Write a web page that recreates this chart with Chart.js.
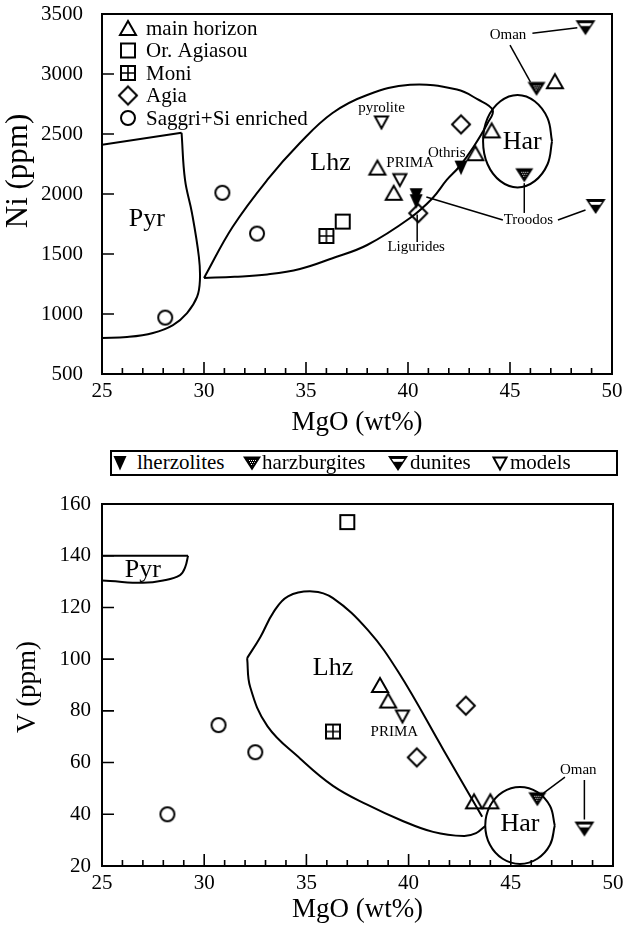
<!DOCTYPE html>
<html>
<head>
<meta charset="utf-8">
<script src="https://cdn.jsdelivr.net/npm/chart.js@4.4.1/dist/chart.umd.min.js"></script>
<style>
  body { margin: 0; background: #fff; }
  #page { position: relative; width: 629px; height: 930px; overflow: hidden; }
  #niChart { position: absolute; left: 0; top: 0; }
  #vChart { position: absolute; left: 0; top: 490px; }
  #typeKey {
    position: absolute; left: 110px; top: 450px; width: 504px; height: 22px;
    border: 2px solid #000; white-space: nowrap;
    font: 21px "Liberation Serif", serif; color: #000;
  }
  #typeKey canvas, #typeKey span { position: absolute; }
  #typeKey span { top: -2px; line-height: 24px; }
  #typeKey canvas { top: -2px; }
</style>
</head>
<body>
<div id="page">
  <canvas id="niChart" width="629" height="440"></canvas>
  <div id="typeKey"></div>
  <canvas id="vChart" width="629" height="440"></canvas>
</div>
<script>
// ---- upper panel: Ni (ppm) vs MgO (wt%) ----
const mainHorizonNi = [[38.5, 2220], [39.3, 2010], [43.3, 2340], [44.1, 2530], [47.2, 2940]];
const agiasouNi = [[36.8, 1770]];
const moniNi = [[36.0, 1650]];
const agiaNi = [[42.6, 2580], [40.5, 1840]];
const saggriNi = [[28.1, 970], [30.9, 2010], [32.6, 1670]];
const lherzoliteNi = [[42.6, 2220], [40.4, 1990], [40.4, 1940]];
const harzburgiteNi = [[46.3, 2880], [45.7, 2160]];
const duniteNi = [[48.7, 3390], [49.2, 1900]];
const modelNi = [[38.7, 2600], [39.6, 2120]];

// field outlines (MgO, Ni)
const pyrTopNi = [[25, 2410], [28.9, 2510]];
const pyrSideNi = [[28.9, 2510], [29.07, 2117], [29.41, 1842], [29.75, 1475], [29.8, 1283], [29.66, 1142],
  [29.17, 1008], [28.48, 908], [27.5, 842], [26.23, 808], [25, 800]];
const lhzNi = [[30.0, 1300], [31.4, 1725], [33.1, 2117], [34.7, 2425], [36.3, 2675], [38.0, 2825], [40.1, 2910],
  [42.4, 2870], [43.4, 2790], [44.15, 2700], [43.9, 2590], [43.2, 2390], [42.5, 2225], [41.9, 2117],
  [41.2, 1965], [40.1, 1800], [38.0, 1575], [36.3, 1465], [34.7, 1375], [33.1, 1330], [31.5, 1310], [30.0, 1300]];
const harNi = [[47.06, 2440], [46.84, 2632], [46.21, 2773], [45.37, 2825], [44.53, 2773], [43.9, 2632],
  [43.68, 2440], [43.9, 2248], [44.53, 2107], [45.37, 2055], [46.21, 2107], [46.84, 2248], [47.06, 2440]];

// leader lines (MgO, Ni)
const leadersNi = [
  [[46.1, 3340], [48.3, 3385]],
  [[45.0, 3240], [46.0, 2935]],
  [[44.65, 1783], [40.9, 1975]],
  [[47.35, 1783], [48.7, 1867]],
  [[45.7, 1842], [45.7, 2090]],
  [[40.45, 1600], [40.45, 1830]],
];
const fieldNamesNi = [['Pyr', 27.2, 1792], ['Lhz', 36.2, 2258], ['Har', 45.6, 2433]];
const notesNi = [['Oman', 44.9, 3325], ['pyrolite', 38.7, 2717], ['PRIMA', 40.1, 2258], ['Othris', 41.9, 2342],
  ['Ligurides', 40.4, 1558], ['Troodos', 45.9, 1783]];

// ---- lower panel: V (ppm) vs MgO (wt%) ----
const mainHorizonV = [[38.6, 90], [39.0, 84], [43.2, 45], [44.0, 45]];
const agiasouV = [[37.0, 153]];
const moniV = [[36.3, 72]];
const agiaV = [[42.8, 82], [40.4, 62]];
const saggriV = [[28.2, 40], [30.7, 74.5], [32.5, 64]];
const harzburgiteV = [[46.3, 46]];
const duniteV = [[48.6, 34.5]];
const modelV = [[39.7, 78]];

const pyrTopV = [[25, 140], [29.21, 140]];
const pyrSideV = [[29.21, 140], [29.07, 135.6], [28.82, 132.5], [27.99, 130.4], [27.0, 129.5], [25.4, 130.2], [25, 130.4]];
const lhzUpperV = [[43.6, 39], [41.7, 65], [39.5, 95], [38.0, 111.3], [36.3, 123.6], [35.3, 126.2], [34.1, 124.3],
  [33.4, 118.3], [32.75, 108.6], [32.1, 100.4]];
const lhzLowerV = [[32.1, 100.4], [32.25, 89.2], [33.1, 74], [34.7, 61.5], [36.3, 51], [38.0, 43.6], [39.6, 37.8],
  [41.2, 33.2], [42.7, 31.6], [43.3, 32.7], [43.75, 35.5]];
const harV = [[47.15, 35.7], [46.92, 43.2], [46.3, 48.6], [45.45, 50.6], [44.6, 48.6], [43.98, 43.2], [43.75, 35.7],
  [43.98, 28.2], [44.6, 22.8], [45.45, 20.8], [46.3, 22.8], [46.92, 28.2], [47.15, 35.7]];

const leadersV = [
  [[47.65, 54.4], [46.6, 48.2]],
  [[48.6, 53.3], [48.6, 38]],
];
const fieldNamesV = [['Pyr', 27.0, 134.5], ['Lhz', 36.3, 96.6], ['Har', 45.45, 36]];
const notesV = [['PRIMA', 39.3, 71.8], ['Oman', 48.3, 57]];

// keys
const sampleKey = [['triUp', 'main horizon'], ['square', 'Or. Agiasou'], ['moni', 'Moni'], ['diamond', 'Agia'],
  ['circle', 'Saggri+Si enriched']];
const typeKey = [['lherz', 'lherzolites'], ['harz', 'harzburgites'], ['dunite', 'dunites'], ['model', 'models']];

const SERIF = '"Liberation Serif", serif';
// where the type key puts each symbol centre and text start (px from the box's inner left edge)
const TYPE_KEY_ICON_X = [8, 140, 286, 388];
const TYPE_KEY_TEXT_X = [25, 150, 298, 398];

/** point symbols drawn once on small canvases */
function makeMarker(kind) {
  const c = document.createElement('canvas');
  c.width = 26;
  c.height = 26;
  const g = c.getContext('2d');
  g.translate(13, 13);
  g.strokeStyle = '#000';
  g.fillStyle = '#000';
  g.lineWidth = 2;
  const poly = (p) => {
    g.beginPath();
    g.moveTo(p[0][0], p[0][1]);
    p.slice(1).forEach(([x, y]) => g.lineTo(x, y));
    g.closePath();
  };
  switch (kind) {
    case 'triUp':
      poly([[0, -7], [8, 7], [-8, 7]]);
      g.stroke();
      break;
    case 'square':
      g.strokeRect(-7, -7, 14, 14);
      break;
    case 'moni':
      g.strokeRect(-7, -7, 14, 14);
      g.lineWidth = 1.6;
      g.beginPath();
      g.moveTo(0, -7); g.lineTo(0, 7);
      g.moveTo(-7, 0); g.lineTo(7, 0);
      g.stroke();
      break;
    case 'diamond':
      poly([[0, -9], [9, 0], [0, 9], [-9, 0]]);
      g.stroke();
      break;
    case 'circle':
      g.beginPath();
      g.arc(0, 0, 7, 0, Math.PI * 2);
      g.stroke();
      break;
    case 'lherz':
      poly([[-6.5, -7], [6.5, -7], [0, 7.5]]);
      g.fill();
      break;
    case 'model':
      poly([[-6.5, -5.5], [6.5, -5.5], [0, 6.5]]);
      g.stroke();
      break;
    case 'harz':
      poly([[-9, -6.5], [9, -6.5], [0, 7.5]]);
      g.fill();
      poly([[-5, -4], [5, -4], [0, 3.5]]);
      g.save();
      g.clip();
      g.fillStyle = '#fff';
      for (let y = -5; y < 5; y += 2) {
        for (let x = -6; x < 6; x += 2) {
          g.fillRect(x + ((y + 5) % 4 ? 1 : 0), y, 1, 1);
        }
      }
      g.restore();
      break;
    case 'dunite':
      poly([[-10, -7], [10, -7], [0, 8]]);
      g.fill();
      poly([[-6.5, -4.2], [6.5, -4.2], [0, 5]]);
      g.save();
      g.clip();
      g.fillStyle = '#fff';
      g.fillRect(-8, -4.2, 16, 3);
      g.restore();
      break;
    default:
      break;
  }
  return c;
}

const MARKERS = {};
['triUp', 'square', 'moni', 'diamond', 'circle', 'lherz', 'model', 'harz', 'dunite'].forEach((k) => {
  MARKERS[k] = makeMarker(k);
});

const pts = (arr) => arr.map(([x, y]) => ({ x, y }));

function outline(data, tension, width) {
  return {
    data: pts(data),
    showLine: true,
    pointRadius: 0,
    borderColor: '#000',
    borderWidth: width || 2,
    tension: tension || 0,
    fill: false,
  };
}

function symbols(data, kind) {
  return {
    data: pts(data),
    showLine: false,
    pointStyle: MARKERS[kind],
    pointRadius: 8,
  };
}

/** box frame, inward ticks, y title, field names, notes and sample key */
const framePlugin = {
  id: 'frame',
  afterDatasetsDraw(chart, _args, opts) {
    const { ctx, chartArea: a } = chart;
    const x = chart.scales.x;
    const y = chart.scales.y;
    ctx.save();
    ctx.strokeStyle = '#000';
    ctx.lineWidth = 2;
    ctx.strokeRect(a.left, a.top, a.right - a.left, a.bottom - a.top);

    ctx.lineWidth = 1.6;
    ctx.beginPath();
    for (let v = x.min + 1; v < x.max; v += 1) {
      const px = x.getPixelForValue(v);
      const len = v % 5 === 0 ? 12 : 6;
      ctx.moveTo(px, a.bottom);
      ctx.lineTo(px, a.bottom - len);
    }
    y.ticks.forEach((t) => {
      if (t.value <= y.min || t.value >= y.max) return;
      const py = y.getPixelForValue(t.value);
      ctx.moveTo(a.left, py);
      ctx.lineTo(a.left + 12, py);
    });
    ctx.stroke();

    ctx.fillStyle = '#000';
    ctx.textAlign = 'center';
    ctx.textBaseline = 'middle';

    if (opts.yTitle) {
      const t = opts.yTitle;
      ctx.save();
      ctx.translate(t.cx, t.cy);
      ctx.rotate(-Math.PI / 2);
      ctx.font = `${t.size}px ${SERIF}`;
      ctx.fillText(t.text, 0, 0);
      ctx.restore();
    }

    ctx.font = `26px ${SERIF}`;
    (opts.fieldNames || []).forEach(([t, mx, my]) => {
      ctx.fillText(t, x.getPixelForValue(mx), y.getPixelForValue(my));
    });
    ctx.font = `15px ${SERIF}`;
    (opts.notes || []).forEach(([t, mx, my]) => {
      ctx.fillText(t, x.getPixelForValue(mx), y.getPixelForValue(my));
    });

    if (opts.key) {
      ctx.textAlign = 'left';
      ctx.font = `21px ${SERIF}`;
      opts.key.forEach(([kind, label], i) => {
        const cy = a.top + 14 + i * 22.5;
        const img = MARKERS[kind];
        ctx.drawImage(img, a.left + 26 - img.width / 2, cy - img.height / 2);
        ctx.fillText(label, a.left + 44, cy + 1);
      });
    }
    ctx.restore();
  },
};

function buildChart(canvasId, cfg) {
  const canvas = document.getElementById(canvasId);
  const ctx = canvas.getContext('2d');
  return new Chart(ctx, {
    type: 'scatter',
    data: { datasets: cfg.datasets },
    options: {
      responsive: false,
      animation: false,
      events: [],
      layout: { padding: { top: 14, right: cfg.rightPad, left: 0, bottom: 0 } },
      plugins: {
        legend: { display: false },
        tooltip: { enabled: false },
        frame: cfg.frame,
      },
      scales: {
        x: {
          type: 'linear',
          min: 25,
          max: 50,
          grid: { display: false, drawTicks: false },
          border: { display: false },
          ticks: { stepSize: 5, padding: 5, color: '#000', font: { family: SERIF, size: 21 } },
          title: {
            display: true, text: 'MgO (wt%)', color: '#000',
            font: { family: SERIF, size: 27 }, padding: { top: 0, bottom: cfg.xTitlePad },
          },
          afterFit(scale) {
            scale.height = cfg.xHeight;
            scale.paddingLeft = 0;
            scale.paddingRight = 0;
          },
        },
        y: {
          type: 'linear',
          min: cfg.yMin,
          max: cfg.yMax,
          grid: { display: false, drawTicks: false },
          border: { display: false },
          ticks: {
            stepSize: cfg.yStep,
            padding: cfg.yLabelPad,
            color: '#000',
            font: { family: SERIF, size: 21 },
            callback: (v) => String(v),
          },
          title: { display: false },
          afterFit(scale) {
            scale.width = 102;
            scale.paddingTop = 0;
            scale.paddingBottom = 0;
          },
        },
      },
    },
    plugins: [framePlugin],
  });
}

function renderTypeKey() {
  const box = document.getElementById('typeKey');
  typeKey.forEach(([kind, label], i) => {
    const icon = document.createElement('canvas');
    icon.width = 26;
    icon.height = 26;
    icon.getContext('2d').drawImage(MARKERS[kind], 0, 0);
    icon.style.left = `${TYPE_KEY_ICON_X[i] - 13}px`;
    const text = document.createElement('span');
    text.textContent = label;
    text.style.left = `${TYPE_KEY_TEXT_X[i]}px`;
    box.appendChild(icon);
    box.appendChild(text);
  });
}

function init() {
  if (typeof Chart === 'undefined') {
    console.error('Chart.js not loaded');
    return;
  }

  buildChart('niChart', {
    rightPad: 17,
    xHeight: 66,
    xTitlePad: 1,
    yMin: 500,
    yMax: 3500,
    yStep: 500,
    yLabelPad: 19,
    frame: {
      yTitle: { text: 'Ni (ppm)', size: 31, cx: 19, cy: 171 },
      fieldNames: fieldNamesNi,
      notes: notesNi,
      key: sampleKey,
    },
    datasets: [
      outline(pyrTopNi, 0),
      outline(pyrSideNi, 0.4),
      outline(lhzNi, 0.4),
      outline(harNi, 0.4),
      ...leadersNi.map((l) => outline(l, 0, 1.5)),
      symbols(mainHorizonNi, 'triUp'),
      symbols(agiasouNi, 'square'),
      symbols(moniNi, 'moni'),
      symbols(agiaNi, 'diamond'),
      symbols(saggriNi, 'circle'),
      symbols(lherzoliteNi, 'lherz'),
      symbols(harzburgiteNi, 'harz'),
      symbols(duniteNi, 'dunite'),
      symbols(modelNi, 'model'),
    ],
  });

  renderTypeKey();

  buildChart('vChart', {
    rightPad: 16,
    xHeight: 64,
    xTitlePad: 4,
    yMin: 20,
    yMax: 160,
    yStep: 20,
    yLabelPad: 11,
    frame: {
      yTitle: { text: 'V (ppm)', size: 27, cx: 28, cy: 197 },
      fieldNames: fieldNamesV,
      notes: notesV,
    },
    datasets: [
      outline(pyrTopV, 0),
      outline(pyrSideV, 0.4),
      outline(lhzUpperV, 0.4),
      outline(lhzLowerV, 0.4),
      outline(harV, 0.4),
      ...leadersV.map((l) => outline(l, 0, 1.5)),
      symbols(mainHorizonV, 'triUp'),
      symbols(agiasouV, 'square'),
      symbols(moniV, 'moni'),
      symbols(agiaV, 'diamond'),
      symbols(saggriV, 'circle'),
      symbols(harzburgiteV, 'harz'),
      symbols(duniteV, 'dunite'),
      symbols(modelV, 'model'),
    ],
  });
}

document.addEventListener('DOMContentLoaded', init);
</script>
</body>
</html>
